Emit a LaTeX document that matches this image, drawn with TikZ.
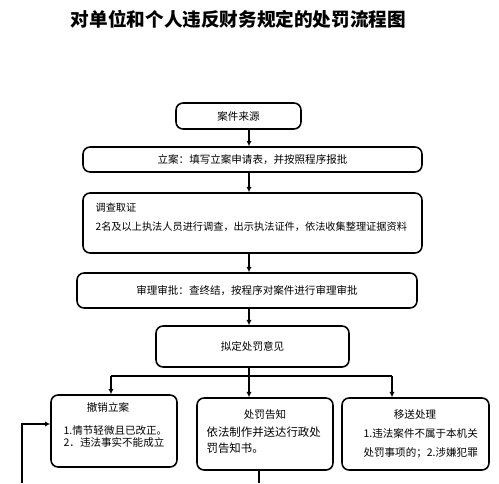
\documentclass[tikz,border=0pt]{standalone}
\usepackage{fontspec}
\newfontfamily\cjk{Noto Sans CJK SC}
\usetikzlibrary{arrows.meta}

\tikzset{
  box/.style={draw, line width=0.9pt, rounded corners=4pt, inner sep=0pt,
    font=\cjk\fontsize{6}{7}\selectfont},
  txt/.style={inner sep=0pt, align=left, font=\cjk\fontsize{6}{#1}\selectfont},
  txt/.default=7
}

\begin{document}
\begin{tikzpicture}[x=0.02cm, y=-0.02cm, >={Latex[length=3pt,width=3pt]}, line width=0.7pt]
  \useasboundingbox (0,0) rectangle (499,483);
  \node[anchor=base, inner sep=0pt, font=\cjk\bfseries\fontsize{10.6}{13}\selectfont] (title) at (238.5,27) {对单位和个人违反财务规定的处罚流程图};

  % main column
  \node[box, minimum width=2.5cm, minimum height=0.52cm] (b1) at (238.5,116) {案件来源};
  \node[box, minimum width=6.78cm, minimum height=0.5cm] (b2) at (252.5,159.5) {立案：填写立案申请表，并按照程序报批};
  \node[box, minimum width=6.78cm, minimum height=1.2cm] (b3) at (252.5,223) {};
  \node[txt=10.8, anchor=base west, font=\cjk\fontsize{5.8}{10.8}\selectfont] (t3) at (95,230) {调查取证\\2名及以上执法人员进行调查，出示执法证件，依法收集整理证据资料};
  \node[box, minimum width=6.8cm, minimum height=0.7cm] (b4) at (247,290.5) {审理审批：查终结，按程序对案件进行审理审批};
  \node[box, minimum width=3.86cm, minimum height=0.82cm] (b5) at (252.5,346.5) {拟定处罚意见};

  % three outcomes
  \node[box, minimum width=2.52cm, minimum height=1.44cm] (b6) at (114,431) {};
  \node[txt, anchor=base] (h6) at (108,411) {撤销立案};
  \node[txt=6.3, anchor=base west] (t6) at (63,446) {1.情节轻微且已改正。\\2．违法事实不能成立};
  \node[box, minimum width=2.72cm, minimum height=1.44cm] (b7) at (265,434) {};
  \node[txt, anchor=base] (h7) at (265,418.5) {处罚告知};
  \node[txt, anchor=base west, font=\cjk\fontsize{6.5}{9.1}\selectfont] (t7) at (206,452) {依法制作并送达行政处\\罚告知书。};
  \node[box, minimum width=2.94cm, minimum height=1.44cm] (b8) at (415.5,434) {};
  \node[txt, anchor=base] (h8) at (415,418.5) {移送处理};
  \node[txt=10.8, anchor=base west] (t8) at (363,456) {1.违法案件不属于本机关\\处罚事项的；2.涉嫌犯罪};

  % connectors
  \coordinate (spine) at (249,0);
  \foreach \a/\b in {b1/b2, b2/b3, b3/b4, b4/b5, b5/b7}
    \draw[->] (\a.south -| spine) -- (\b.north -| spine);
  \coordinate (lt) at (111,376);
  \coordinate (rt) at (392,376);
  \draw (lt) -- (rt);
  \draw[->] (lt) -- (lt |- b6.north);
  \draw[->] (rt) -- (rt |- b8.north);
  \coordinate (out) at (259,483);
  \draw (out |- b7.south) -- (out);
  \coordinate (fb) at (22,483);
  \coordinate (fbend) at (22,424);
  \draw[->] (fb) -- (fbend) -- (fbend -| b6.west);
\end{tikzpicture}
\end{document}
